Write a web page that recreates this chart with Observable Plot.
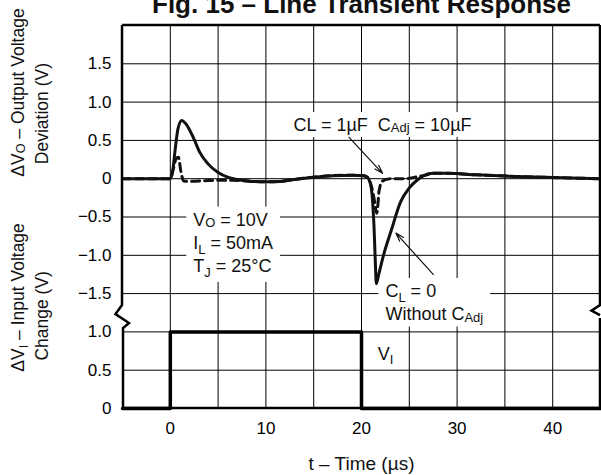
<!DOCTYPE html>
<html>
<head>
<meta charset="utf-8">
<script src="https://cdn.jsdelivr.net/npm/d3@7"></script>
<script src="https://cdn.jsdelivr.net/npm/@observablehq/plot@0.6"></script>
<style>
html, body { margin: 0; padding: 0; background: #fff; }
#chart { width: 601px; height: 475px; overflow: hidden; }
#chart svg { display: block; }
</style>
</head>
<body>
<div id="chart"></div>
<script>
// ---------- data ----------
// Output voltage deviation, C_L = 0, without C_Adj (solid)
const tSolid = [-5, 0, 0.25, 0.5, 0.8, 1.2, 1.6, 2.4, 3.1, 3.9, 5, 6, 7, 8.5, 10, 11.5, 13, 15, 17, 19, 20.2, 20.6, 20.9, 21.1, 21.3, 21.45, 21.55, 21.8, 22.3, 23.1, 24.1, 25, 25.8, 26.5, 27.5, 29, 32, 36, 40, 45];
const vSolid = [0, 0, 0.1, 0.37, 0.65, 0.76, 0.72, 0.54, 0.34, 0.2, 0.08, 0.02, -0.01, -0.035, -0.04, -0.035, -0.01, 0.02, 0.04, 0.045, 0.04, 0.02, -0.05, -0.2, -0.6, -1.1, -1.37, -1.25, -1.0, -0.68, -0.3, -0.12, -0.02, 0.04, 0.07, 0.07, 0.05, 0.03, 0.015, 0];
// Output voltage deviation, CL = 1µF, C_Adj = 10µF (dashed)
const tDashed = [-5, 0, 0.3, 0.6, 0.85, 1.1, 1.4, 2, 3, 4, 5, 6.5, 8.5, 10, 11.5, 13, 15, 17, 19, 20.2, 20.6, 21.0, 21.3, 21.6, 21.85, 22.2, 23, 24, 25, 26, 26.5, 27.5, 29, 32, 36, 40, 45];
const vDashed = [0, 0, 0.12, 0.26, 0.28, 0.1, -0.03, -0.035, -0.03, -0.025, -0.02, -0.02, -0.035, -0.04, -0.035, -0.01, 0.02, 0.04, 0.045, 0.04, 0.02, -0.08, -0.25, -0.45, -0.15, -0.03, 0, 0, 0.005, 0.03, 0.04, 0.07, 0.07, 0.05, 0.03, 0.015, 0];
// Input voltage change (pulse)
const tInput = [-5, 0, 0, 20, 20, 45];
const vInput = [0, 0, 1, 1, 0, 0];

// ---------- ticks ----------
const xTicks = [0, 10, 20, 30, 40];
const xGrid = [0, 5, 10, 15, 20, 25, 30, 35, 40];
const yTickPos = [0, 0.5, 1, 1.5, 2, 2.5, 3, 3.5, 4, 4.5];
const yTickLabels = ["0", "0.5", "1.0", "−1.5", "−1.0", "−0.5", "0", "0.5", "1.0", "1.5"];
const yGrid = [0.5, 1, 1.5, 2, 2.5, 3, 3.5, 4, 4.5];

// The upper (output) panel shares the axis: its 0 sits at 3 on the shared scale
const UPPER_ZERO = 3;
const BREAK_AT = 1.2;
const up = v => v + UPPER_ZERO;

const solid = tSolid.map((t, i) => ({t, v: up(vSolid[i])}));
const dashed = tDashed.map((t, i) => ({t, v: up(vDashed[i])}));
const input = tInput.map((t, i) => ({t, v: vInput[i]}));

const notes = [
  {t: 2.4, v: up(-0.82), label: "V[O] = 10V\nI{L} = 50mA\nT{J} = 25°C"},
  {t: 12.9, v: up(0.72), label: "CL = 1µF\u00A0 C[Adj] = 10µF"},
  {t: 22.5, v: up(-1.60), label: "C{L} = 0\nWithout C[Adj]"}
];
const inputNote = [{t: 21.7, v: 0.71, label: "V{I}"}];
const arrows = [
  {t1: 18.7, v1: up(0.54), t2: 22.2, v2: up(0.07)},
  {t1: 27.5, v1: up(-1.25), t2: 23.6, v2: up(-0.71)}
];
const yTitlesOuter = [{y: 4.125, text: "ΔV[O] – Output Voltage"}, {y: 1.45, text: "ΔV{I} – Input Voltage"}];
const yTitlesInner = [{y: 3.85, text: "Deviation (V)"}, {y: 1.21, text: "Change (V)"}];

const FONT = "'Liberation Sans', Arial, Helvetica, sans-serif";

const plot = Plot.plot({
  width: 601,
  height: 475,
  marginLeft: 122,
  marginRight: 1,
  marginTop: 25,
  marginBottom: 67,
  style: {fontFamily: FONT, fontSize: "17px", color: "#000", background: "#fff", overflow: "visible"},
  x: {domain: [-5, 45], ticks: xTicks, tickSize: 0, tickPadding: 13, label: null},
  y: {domain: [0, 5], ticks: yTickPos, tickFormat: d => yTickLabels[yTickPos.indexOf(d)], tickSize: 0, tickPadding: 11, label: null},
  marks: [
    Plot.ruleX(xGrid, {stroke: "#000", strokeWidth: 1}),
    Plot.ruleY(yGrid, {stroke: "#000", strokeWidth: 1}),
    Plot.text(notes, {x: "t", y: "v", text: "label", textAnchor: "start", lineAnchor: "middle", lineHeight: 1.3, fontSize: 18, fill: "#111", ariaDescription: "note"}),
    Plot.text(inputNote, {x: "t", y: "v", text: "label", textAnchor: "start", lineAnchor: "middle", fontSize: 18, fill: "#111"}),
    Plot.line(dashed, {x: "t", y: "v", curve: "monotone-x", stroke: "#111", strokeWidth: 3, strokeDasharray: "8,5"}),
    Plot.line(solid, {x: "t", y: "v", curve: "monotone-x", stroke: "#111", strokeWidth: 3}),
    Plot.line(input, {x: "t", y: "v", stroke: "#000", strokeWidth: 3.5}),
    Plot.arrow(arrows, {x1: "t1", y1: "v1", x2: "t2", y2: "v2", stroke: "#111", strokeWidth: 1.2, headLength: 11, headAngle: 35}),
    Plot.text(yTitlesOuter, {frameAnchor: "left", y: "y", text: "text", dx: -104, rotate: -90, textAnchor: "middle", fontSize: 17.5, fill: "#111", lineAnchor: "middle"}),
    Plot.text(yTitlesInner, {frameAnchor: "left", y: "y", text: "text", dx: -80, rotate: -90, textAnchor: "middle", fontSize: 17.5, fill: "#111", lineAnchor: "middle"}),
    Plot.text(["t – Time (µs)"], {frameAnchor: "bottom", dy: 55, fontSize: 19, fill: "#111", lineAnchor: "middle"}),
    Plot.text(["Fig. 15 – Line Transient Response"], {frameAnchor: "top", dy: -13, fontSize: 26, fontWeight: "bold", fill: "#111", lineAnchor: "bottom"})
  ]
});

document.getElementById("chart").appendChild(plot);
const NS = "http://www.w3.org/2000/svg";
const svgEl = plot.tagName.toLowerCase() === "svg" ? plot : plot.querySelector("svg");

// rich text: {..} = lowered subscript, [..] = small at baseline
function richify(el, fs) {
  const s = el.textContent;
  if (!/[\[{]/.test(s)) return;
  el.textContent = "";
  const re = /\{([^}]*)\}|\[([^\]]*)\]/g;
  let pos = 0, cur = 0, m;
  const seg = (txt, shift, small) => {
    if (!txt) return;
    const ts = document.createElementNS(NS, "tspan");
    const d = shift - cur;
    if (d) ts.setAttribute("dy", d.toFixed(2));
    if (small) ts.setAttribute("font-size", (fs * 0.72).toFixed(2));
    ts.textContent = txt;
    el.appendChild(ts);
    cur = shift;
  };
  while ((m = re.exec(s))) {
    seg(s.slice(pos, m.index), 0, false);
    if (m[1] !== undefined) seg(m[1], fs * 0.25, true); else seg(m[2], fs * 0.06, true);
    pos = re.lastIndex;
  }
  seg(s.slice(pos), 0, false);
}
svgEl.querySelectorAll("text").forEach(t => {
  const fs = parseFloat(getComputedStyle(t).fontSize) || 17;
  const spans = t.querySelectorAll(":scope > tspan");
  if (spans.length) spans.forEach(sp => richify(sp, fs)); else richify(t, fs);
});

// white boxes behind annotations
let noteTexts = svgEl.querySelectorAll("g[aria-description='note'] text");
if (!noteTexts.length) {
  noteTexts = Array.from(svgEl.querySelectorAll("text")).filter(t => /10V|µF|Without/.test(t.textContent));
}
noteTexts.forEach(t => {
  const b = t.getBBox();
  const r = document.createElementNS(NS, "rect");
  r.setAttribute("x", b.x - 7);
  r.setAttribute("y", b.y - 3);
  r.setAttribute("width", b.width + 14);
  r.setAttribute("height", b.height + 5);
  r.setAttribute("fill", "#fff");
  const tr = t.getAttribute("transform");
  if (tr) r.setAttribute("transform", tr);
  t.parentNode.insertBefore(r, t);
});

// frame with axis-break marks
const sx = plot.scale("x"), sy = plot.scale("y");
const lin = s => v => s.range[0] + (v - s.domain[0]) / (s.domain[1] - s.domain[0]) * (s.range[1] - s.range[0]);
const fx = lin(sx), fy = lin(sy);
const L = fx(-5), R = fx(45), T = fy(5), B = fy(0), C = fy(BREAK_AT);
const g = d3.select(svgEl).append("g").attr("fill", "none").attr("stroke", "#000").attr("stroke-width", 2.5).attr("stroke-linejoin", "miter");
g.append("path").attr("d", `M${L},${B} H${R}`);
g.append("path").attr("d", `M${L},${T} H${R}`);
g.append("path").attr("d", `M${L},${T} V${C - 11} L${L - 6.5},${C - 2} L${L + 7},${C + 7} L${L + 1},${C + 12} V${B}`);
g.append("path").attr("d", `M${R},${T} V${C - 11} L${R - 8.5},${C - 5.5} L${R},${C - 1} M${R},${C + 2} V${B}`);
</script>
</body>
</html>
